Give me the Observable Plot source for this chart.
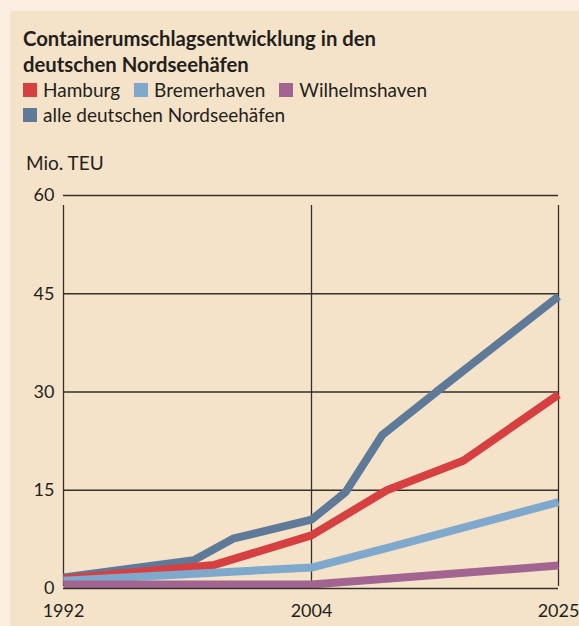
<!DOCTYPE html>
<html><head><meta charset="utf-8">
<script src="https://cdn.jsdelivr.net/npm/d3@7"></script>
<script src="https://cdn.jsdelivr.net/npm/@observablehq/plot@0.6"></script>
<style>
html,body{margin:0;padding:0;background:#f9eee0;}
body{width:579px;height:626px;overflow:hidden;position:relative;font-family:Lato,sans-serif;color:#231f1c;}
#panel{position:absolute;left:10px;top:11px;width:569px;height:615px;background:#f5e3c9;}
.t{position:absolute;white-space:nowrap;}
#title{left:23px;top:25px;font-size:20.3px;line-height:26px;font-weight:700;}
#legend{left:23px;top:77px;font-size:19px;line-height:25px;}
.item{display:inline-block;margin-right:14px;}
.sw{display:inline-block;width:14px;height:14px;margin-right:6px;}
#unit{left:26px;top:152px;font-size:19px;line-height:22px;}
#chart{position:absolute;left:10px;top:180px;}
</style></head><body>
<div id="panel"></div>
<div class="t" id="title">Containerumschlagsentwicklung in den<br>deutschen Nordseehäfen</div>
<div class="t" id="legend"></div>
<div class="t" id="unit">Mio. TEU</div>
<div id="chart"></div>
<script>
const seriesNames = ["alle deutschen Nordseehäfen", "Hamburg", "Bremerhaven", "Wilhelmshaven"];
const legendOrder = ["Hamburg", "Bremerhaven", "Wilhelmshaven", "alle deutschen Nordseehäfen"];
const seriesColors = {"Hamburg":"#d64041", "Bremerhaven":"#7fa9cc", "Wilhelmshaven":"#a26592", "alle deutschen Nordseehäfen":"#5f7a99"};

const alleYears = [1992, 1998.3, 2000.2, 2004, 2006.9, 2010, 2014.6, 2025];
const alleValues = [1.7, 4.3, 7.6, 10.5, 14.7, 23.4, 30, 44.6];
const hamburgYears = [1992, 1999.3, 2004, 2010.4, 2016.9, 2025];
const hamburgValues = [1.5, 3.6, 8.1, 15, 19.5, 29.6];
const bremerhavenYears = [1992, 2004, 2010.7, 2025];
const bremerhavenValues = [1.2, 3.2, 6.3, 13.2];
const wilhelmshavenYears = [1992, 2004, 2025];
const wilhelmshavenValues = [0.6, 0.6, 3.5];

const xTicks = [1992, 2004, 2025];
const yTicks = [0, 15, 30, 45, 60];

const rows = [];
function add(name, ys, vs){ ys.forEach((y,i)=>rows.push({series:name, year:y, value:vs[i]})); }
add("alle deutschen Nordseehäfen", alleYears, alleValues);
add("Hamburg", hamburgYears, hamburgValues);
add("Bremerhaven", bremerhavenYears, bremerhavenValues);
add("Wilhelmshaven", wilhelmshavenYears, wilhelmshavenValues);

// legend
const leg = document.getElementById("legend");
legendOrder.forEach((n,i)=>{
  if (i===3) leg.appendChild(document.createElement("br"));
  const s = document.createElement("span"); s.className="item";
  const sw = document.createElement("span"); sw.className="sw"; sw.style.background=seriesColors[n];
  s.appendChild(sw); s.appendChild(document.createTextNode(n));
  leg.appendChild(s);
});

const grid = "#35302b";
const chart = Plot.plot({
  width: 569, height: 446,
  marginLeft: 53, marginRight: 21, marginTop: 15, marginBottom: 38,
  style: {background:"transparent", fontFamily:"Lato, sans-serif", fontSize:"18px", color:"#231f1c", overflow:"visible"},
  x: {type:"linear", domain: xTicks, range:[53, 301, 548], label:null},
  y: {domain:[0,60], range:[408,15], label:null},
  marks: [
    Plot.ruleY(yTicks.filter(d=>d>0), {x1:1992, x2:2025, stroke:grid, strokeWidth:1.3}),
    Plot.ruleX(xTicks, {y1:0, y2:60, stroke:grid, strokeWidth:1.3, insetBottom:-10, insetTop:-2}),
    ...seriesNames.map(n => Plot.line(rows.filter(r=>r.series===n), {x:"year", y:"value", stroke:seriesColors[n], strokeWidth:8, strokeLinecap:"butt", strokeLinejoin:"miter"})),
    Plot.ruleY([0], {x1:1992, x2:2025, stroke:grid, strokeWidth:1.3}),
    Plot.axisY({ticks:yTicks, tickSize:0, tickPadding:9, fontSize:18, label:null}),
    Plot.axisX({ticks:xTicks, tickSize:0, tickPadding:16, fontSize:18, tickFormat:d=>String(d), label:null})
  ]
});
document.getElementById("chart").appendChild(chart);
</script>
</body></html>
